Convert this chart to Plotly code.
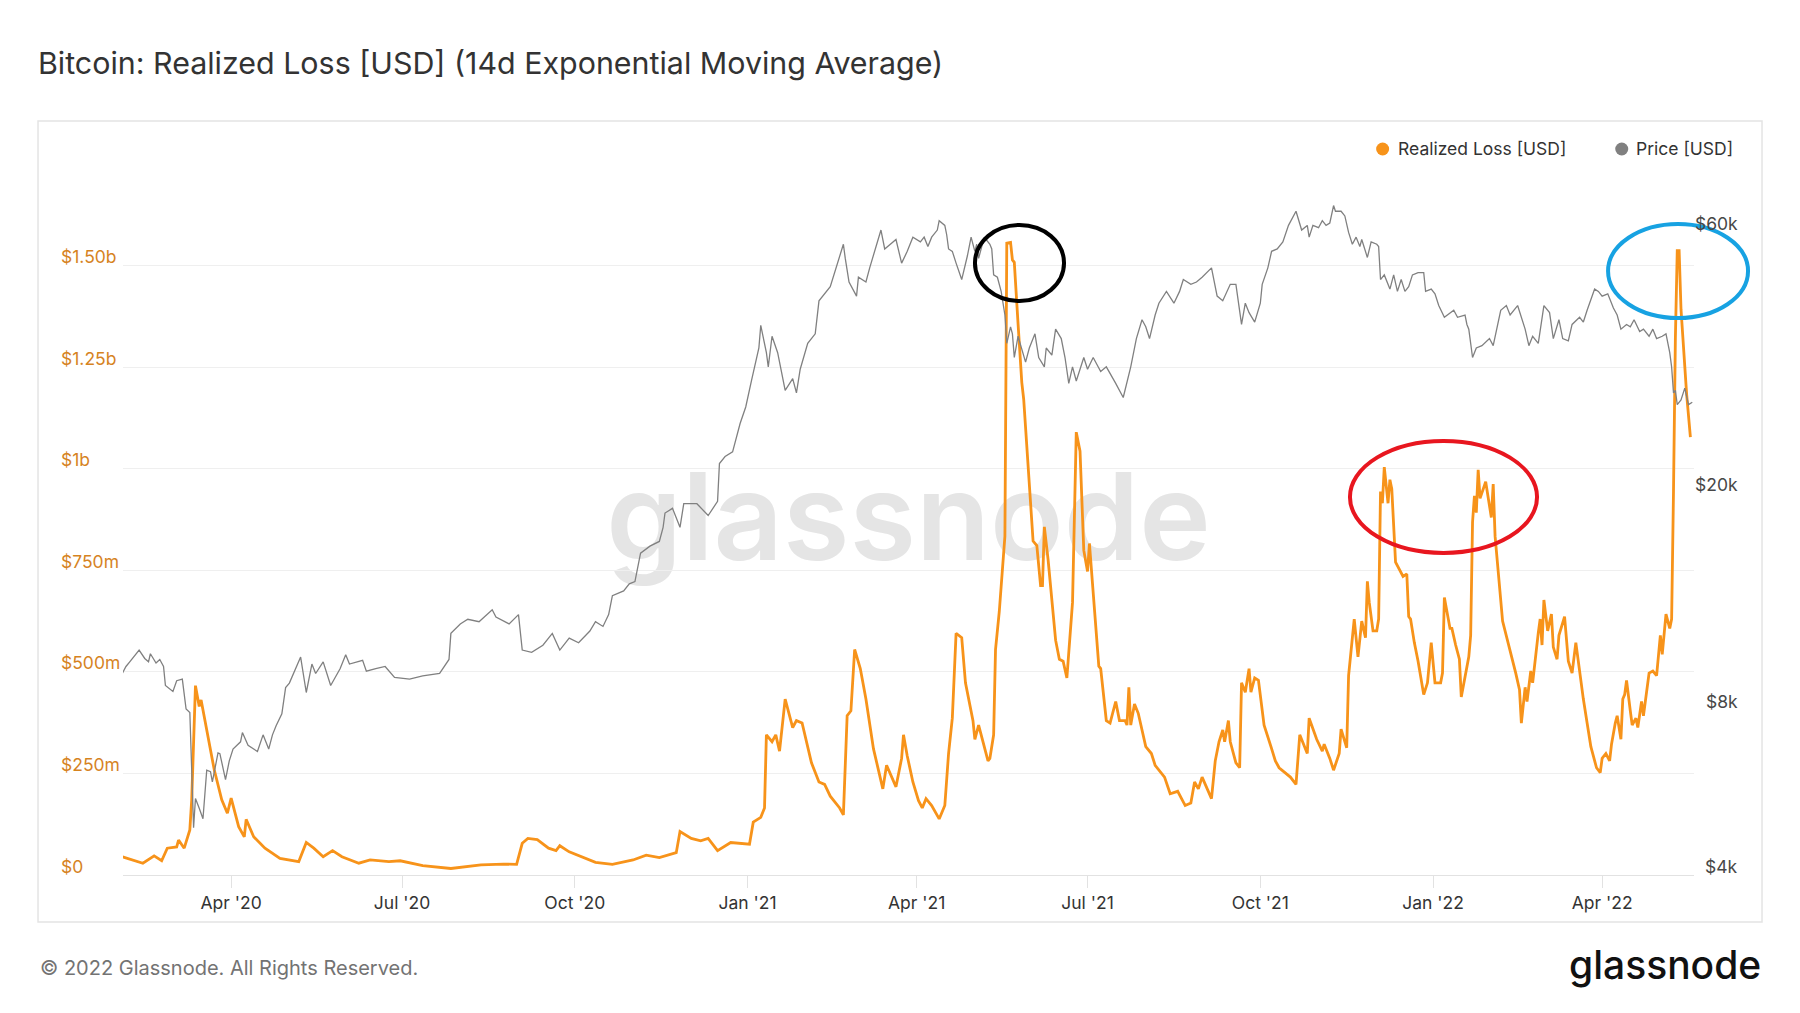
import numpy as np
import plotly.graph_objects as go

# realized loss, 14d EMA, in millions of USD
loss_dates = [
    "2020-02-03", "2020-02-14", "2020-02-20", "2020-02-24", "2020-02-27", "2020-03-03", "2020-03-04", "2020-03-07",
    "2020-03-10", "2020-03-11", "2020-03-13", "2020-03-15", "2020-03-16", "2020-03-19", "2020-03-23", "2020-03-27",
    "2020-03-30", "2020-04-01", "2020-04-05", "2020-04-08", "2020-04-09", "2020-04-13", "2020-04-19", "2020-04-27",
    "2020-05-07", "2020-05-11", "2020-05-15", "2020-05-20", "2020-05-25", "2020-05-30", "2020-06-08", "2020-06-14",
    "2020-06-24", "2020-06-30", "2020-07-12", "2020-07-27", "2020-08-12", "2020-08-24", "2020-08-31", "2020-09-03",
    "2020-09-06", "2020-09-11", "2020-09-17", "2020-09-21", "2020-09-23", "2020-09-28", "2020-10-05", "2020-10-12",
    "2020-10-21", "2020-11-01", "2020-11-08", "2020-11-15", "2020-11-24", "2020-11-26", "2020-12-02", "2020-12-07",
    "2020-12-11", "2020-12-16", "2020-12-23", "2021-01-02", "2021-01-04", "2021-01-08", "2021-01-10", "2021-01-11",
    "2021-01-14", "2021-01-16", "2021-01-18", "2021-01-21", "2021-01-25", "2021-01-27", "2021-01-30", "2021-02-04",
    "2021-02-08", "2021-02-11", "2021-02-14", "2021-02-19", "2021-02-21", "2021-02-23", "2021-02-25", "2021-02-27",
    "2021-03-02", "2021-03-05", "2021-03-09", "2021-03-14", "2021-03-16", "2021-03-21", "2021-03-24", "2021-03-25",
    "2021-03-27", "2021-03-30", "2021-04-02", "2021-04-04", "2021-04-06", "2021-04-09", "2021-04-13", "2021-04-16",
    "2021-04-18", "2021-04-20", "2021-04-22", "2021-04-25", "2021-04-27", "2021-05-01", "2021-05-02", "2021-05-04",
    "2021-05-09", "2021-05-10", "2021-05-12", "2021-05-13", "2021-05-15", "2021-05-18", "2021-05-19", "2021-05-21",
    "2021-05-22", "2021-05-23", "2021-05-25", "2021-05-27", "2021-05-28", "2021-05-31", "2021-06-02", "2021-06-04",
    "2021-06-06", "2021-06-07", "2021-06-08", "2021-06-10", "2021-06-14", "2021-06-16", "2021-06-18", "2021-06-20",
    "2021-06-22", "2021-06-23", "2021-06-25", "2021-06-27", "2021-06-29", "2021-07-01", "2021-07-02", "2021-07-05",
    "2021-07-07", "2021-07-08", "2021-07-11", "2021-07-13", "2021-07-16", "2021-07-18", "2021-07-21", "2021-07-22",
    "2021-07-23", "2021-07-24", "2021-07-26", "2021-07-28", "2021-07-30", "2021-08-01", "2021-08-04", "2021-08-06",
    "2021-08-11", "2021-08-14", "2021-08-18", "2021-08-22", "2021-08-25", "2021-08-27", "2021-08-29", "2021-08-31",
    "2021-09-05", "2021-09-07", "2021-09-09", "2021-09-11", "2021-09-12", "2021-09-14", "2021-09-15", "2021-09-18",
    "2021-09-20", "2021-09-21", "2021-09-23", "2021-09-25", "2021-09-26", "2021-09-28", "2021-09-30", "2021-10-03",
    "2021-10-07", "2021-10-09", "2021-10-11", "2021-10-17", "2021-10-20", "2021-10-22", "2021-10-26", "2021-10-27",
    "2021-10-31", "2021-11-03", "2021-11-04", "2021-11-07", "2021-11-09", "2021-11-12", "2021-11-13", "2021-11-16",
    "2021-11-17", "2021-11-18", "2021-11-20", "2021-11-22", "2021-11-23", "2021-11-24", "2021-11-26", "2021-11-27",
    "2021-11-28", "2021-11-30", "2021-12-02", "2021-12-03", "2021-12-04", "2021-12-05", "2021-12-06", "2021-12-08",
    "2021-12-09", "2021-12-10", "2021-12-12", "2021-12-16", "2021-12-18", "2021-12-19", "2021-12-20", "2021-12-22",
    "2021-12-24", "2021-12-27", "2021-12-29", "2021-12-31", "2022-01-02", "2022-01-05", "2022-01-06", "2022-01-07",
    "2022-01-10", "2022-01-11", "2022-01-13", "2022-01-15", "2022-01-16", "2022-01-18", "2022-01-20", "2022-01-21",
    "2022-01-22", "2022-01-23", "2022-01-24", "2022-01-25", "2022-01-26", "2022-01-29", "2022-02-01", "2022-02-02",
    "2022-02-03", "2022-02-07", "2022-02-09", "2022-02-11", "2022-02-14", "2022-02-16", "2022-02-17", "2022-02-19",
    "2022-02-20", "2022-02-22", "2022-02-23", "2022-02-26", "2022-02-27", "2022-02-28", "2022-03-01", "2022-03-03",
    "2022-03-05", "2022-03-06", "2022-03-08", "2022-03-09", "2022-03-12", "2022-03-14", "2022-03-16", "2022-03-18",
    "2022-03-20", "2022-03-22", "2022-03-24", "2022-03-26", "2022-03-29", "2022-03-31", "2022-04-01", "2022-04-03",
    "2022-04-05", "2022-04-06", "2022-04-08", "2022-04-09", "2022-04-11", "2022-04-12", "2022-04-13", "2022-04-14",
    "2022-04-16", "2022-04-17", "2022-04-19", "2022-04-20", "2022-04-22", "2022-04-23", "2022-04-26", "2022-04-28",
    "2022-04-30", "2022-05-02", "2022-05-03", "2022-05-04", "2022-05-05", "2022-05-07", "2022-05-08", "2022-05-09",
    "2022-05-10", "2022-05-11", "2022-05-12", "2022-05-13", "2022-05-15", "2022-05-16", "2022-05-18",
]
loss_musd = [
    45, 29, 47, 35, 66, 69, 86, 66,
    111, 185, 466, 415, 431, 357, 259, 185,
    152, 189, 119, 94, 137, 94, 66, 41,
    33, 80, 66, 45, 60, 45, 29, 37,
    33, 35, 23, 16, 25, 27, 26, 78,
    90, 87, 66, 60, 72, 57, 43, 31,
    26, 37, 49, 43, 55, 107, 90, 84,
    90, 60, 80, 76, 130, 142, 165, 345,
    328, 345, 305, 433, 363, 380, 374, 276,
    229, 223, 194, 165, 148, 392, 404, 555,
    508, 433, 311, 212, 270, 217, 287, 345,
    293, 229, 183, 165, 188, 171, 138, 171,
    299, 386, 595, 584, 473, 380, 334, 369,
    281, 287, 345, 555, 648, 834, 1555, 1557,
    1514, 1508, 1357, 1212, 1171, 950, 822, 811,
    712, 712, 857, 776, 578, 531, 526, 485,
    625, 671, 1090, 1043, 799, 747, 816, 636,
    514, 508, 380, 374, 427, 380, 380, 369,
    462, 369, 421, 398, 357, 316, 299, 270,
    241, 200, 206, 171, 177, 229, 212, 241,
    188, 281, 328, 357, 328, 380, 328, 276,
    264, 473, 450, 508, 450, 485, 479, 369,
    311, 281, 264, 241, 223, 345, 299, 386,
    334, 305, 322, 287, 258, 299, 359, 313,
    491, 537, 630, 537, 578, 625, 584, 723,
    671, 601, 601, 630, 944, 915, 1004, 915,
    973, 950, 770, 735, 741, 636, 630, 572,
    526, 444, 473, 572, 473, 473, 497, 683,
    607, 607, 566, 531, 438, 485, 537, 590,
    869, 933, 892, 997, 927, 968, 880, 962,
    834, 625, 590, 555, 497, 456, 374, 462,
    427, 502, 473, 596, 630, 566, 677, 601,
    642, 561, 531, 590, 636, 526, 497, 572,
    497, 433, 374, 316, 264, 252, 287, 299,
    281, 322, 374, 392, 334, 433, 444, 479,
    404, 369, 386, 363, 427, 392, 497, 502,
    491, 590, 543, 590, 642, 607, 630, 944,
    1322, 1537, 1537, 1392, 1247, 1183, 1078,
]

# BTC price in USD (right log axis)
price_dates = [
    "2020-02-03", "2020-02-05", "2020-02-07", "2020-02-09", "2020-02-10", "2020-02-12", "2020-02-15", "2020-02-17",
    "2020-02-18", "2020-02-21", "2020-02-23", "2020-02-25", "2020-02-26", "2020-03-01", "2020-03-03", "2020-03-06",
    "2020-03-08", "2020-03-10", "2020-03-12", "2020-03-13", "2020-03-15", "2020-03-17", "2020-03-19", "2020-03-21",
    "2020-03-22", "2020-03-24", "2020-03-25", "2020-03-26", "2020-03-29", "2020-03-31", "2020-04-02", "2020-04-06",
    "2020-04-07", "2020-04-10", "2020-04-15", "2020-04-18", "2020-04-21", "2020-04-23", "2020-04-25", "2020-04-28",
    "2020-04-30", "2020-05-02", "2020-05-08", "2020-05-11", "2020-05-14", "2020-05-16", "2020-05-20", "2020-05-24",
    "2020-05-29", "2020-06-01", "2020-06-03", "2020-06-10", "2020-06-12", "2020-06-17", "2020-06-22", "2020-06-27",
    "2020-07-05", "2020-07-12", "2020-07-21", "2020-07-26", "2020-07-27", "2020-08-01", "2020-08-05", "2020-08-11",
    "2020-08-18", "2020-08-20", "2020-08-27", "2020-09-01", "2020-09-03", "2020-09-08", "2020-09-14", "2020-09-19",
    "2020-09-23", "2020-09-28", "2020-10-03", "2020-10-09", "2020-10-12", "2020-10-16", "2020-10-19", "2020-10-21",
    "2020-10-27", "2020-10-30", "2020-11-02", "2020-11-05", "2020-11-10", "2020-11-15", "2020-11-17", "2020-11-18",
    "2020-11-22", "2020-11-26", "2020-11-28", "2020-12-05", "2020-12-11", "2020-12-16", "2020-12-17", "2020-12-20",
    "2020-12-24", "2020-12-28", "2020-12-31", "2021-01-03", "2021-01-07", "2021-01-08", "2021-01-11", "2021-01-12",
    "2021-01-14", "2021-01-17", "2021-01-21", "2021-01-25", "2021-01-27", "2021-01-29", "2021-02-02", "2021-02-06",
    "2021-02-08", "2021-02-14", "2021-02-18", "2021-02-21", "2021-02-22", "2021-02-24", "2021-02-28", "2021-03-01",
    "2021-03-05", "2021-03-07", "2021-03-13", "2021-03-15", "2021-03-21", "2021-03-24", "2021-03-27", "2021-03-30",
    "2021-04-03", "2021-04-05", "2021-04-07", "2021-04-09", "2021-04-12", "2021-04-13", "2021-04-16", "2021-04-17",
    "2021-04-18", "2021-04-20", "2021-04-22", "2021-04-25", "2021-04-28", "2021-04-30", "2021-05-02", "2021-05-03",
    "2021-05-04", "2021-05-07", "2021-05-10", "2021-05-11", "2021-05-12", "2021-05-14", "2021-05-16", "2021-05-18",
    "2021-05-19", "2021-05-21", "2021-05-22", "2021-05-23", "2021-05-25", "2021-05-26", "2021-05-29", "2021-05-31",
    "2021-06-03", "2021-06-05", "2021-06-08", "2021-06-09", "2021-06-12", "2021-06-14", "2021-06-17", "2021-06-19",
    "2021-06-21", "2021-06-23", "2021-06-25", "2021-06-29", "2021-07-01", "2021-07-04", "2021-07-08", "2021-07-11",
    "2021-07-14", "2021-07-16", "2021-07-20", "2021-07-22", "2021-07-24", "2021-07-27", "2021-07-30", "2021-08-01",
    "2021-08-03", "2021-08-06", "2021-08-08", "2021-08-12", "2021-08-16", "2021-08-19", "2021-08-21", "2021-08-25",
    "2021-08-28", "2021-08-31", "2021-09-05", "2021-09-08", "2021-09-11", "2021-09-15", "2021-09-18", "2021-09-21",
    "2021-09-23", "2021-09-25", "2021-09-28", "2021-10-01", "2021-10-02", "2021-10-05", "2021-10-07", "2021-10-10",
    "2021-10-13", "2021-10-16", "2021-10-20", "2021-10-23", "2021-10-26", "2021-10-27", "2021-10-29", "2021-11-01",
    "2021-11-03", "2021-11-05", "2021-11-07", "2021-11-09", "2021-11-10", "2021-11-13", "2021-11-15", "2021-11-17",
    "2021-11-19", "2021-11-21", "2021-11-23", "2021-11-24", "2021-11-27", "2021-11-29", "2021-12-02", "2021-12-03",
    "2021-12-04", "2021-12-06", "2021-12-09", "2021-12-11", "2021-12-13", "2021-12-15", "2021-12-17", "2021-12-19",
    "2021-12-21", "2021-12-24", "2021-12-27", "2021-12-28", "2021-12-31", "2022-01-02", "2022-01-04", "2022-01-07",
    "2022-01-10", "2022-01-12", "2022-01-14", "2022-01-18", "2022-01-19", "2022-01-20", "2022-01-22", "2022-01-24",
    "2022-01-27", "2022-01-31", "2022-02-02", "2022-02-04", "2022-02-06", "2022-02-09", "2022-02-11", "2022-02-15",
    "2022-02-17", "2022-02-19", "2022-02-21", "2022-02-23", "2022-02-26", "2022-03-01", "2022-03-04", "2022-03-06",
    "2022-03-09", "2022-03-11", "2022-03-14", "2022-03-16", "2022-03-20", "2022-03-22", "2022-03-24", "2022-03-26",
    "2022-03-28", "2022-03-30", "2022-04-01", "2022-04-04", "2022-04-07", "2022-04-09", "2022-04-11", "2022-04-14",
    "2022-04-16", "2022-04-18", "2022-04-21", "2022-04-23", "2022-04-26", "2022-04-28", "2022-04-30", "2022-05-03",
    "2022-05-05", "2022-05-07", "2022-05-08", "2022-05-09", "2022-05-10", "2022-05-11", "2022-05-13", "2022-05-15",
    "2022-05-17", "2022-05-19",
]
price_usd = [
    9350, 9630, 9820, 10020, 10160, 10320, 9960, 9820,
    10160, 9770, 9920, 9630, 8890, 8670, 9070, 9130,
    8050, 7930, 4880, 5520, 5300, 5070, 6220, 6180,
    5920, 6410, 6690, 6670, 5980, 6470, 6800, 7010,
    7290, 6910, 6730, 7220, 6800, 7220, 7510, 7890,
    8810, 8980, 10020, 8630, 9730, 9350, 9820, 8890,
    9540, 10120, 9730, 9880, 9440, 9540, 9630, 9200,
    9130, 9260, 9350, 9920, 11070, 11520, 11750, 11630,
    12230, 11860, 11520, 11980, 10320, 10220, 10530, 11070,
    10320, 10850, 10640, 11180, 11630, 11400, 11980, 12980,
    13240, 13640, 13770, 15520, 15990, 16310, 17310, 18380,
    18750, 17310, 19120, 19120, 18190, 19310, 22640, 23320,
    23790, 26810, 28740, 32060, 36850, 40530, 36120, 34030,
    38720, 36120, 30810, 32380, 30500, 33690, 37580, 39110,
    44950, 47710, 52690, 57050, 53750, 48660, 45850, 49650,
    48660, 51650, 60570, 55930, 58200, 52690, 55370, 58780,
    57630, 58780, 56490, 58780, 60570, 63010, 61770, 59380,
    55930, 55370, 52690, 49160, 54290, 58780, 55370, 57050,
    53750, 58780, 57050, 55930, 50140, 49650, 46770, 42340,
    37580, 40290, 39110, 35400, 38720, 37580, 34710, 36850,
    39110, 35400, 34030, 36850, 35770, 39890, 38340, 35400,
    31740, 34030, 32060, 35400, 33690, 35400, 33360, 34030,
    32700, 31740, 29910, 32060, 34030, 38340, 41510, 40290,
    38340, 42340, 44500, 46770, 44500, 46770, 49160, 48180,
    48660, 49650, 51650, 45850, 44950, 48180, 48180, 40690,
    44500, 42770, 41100, 44500, 48180, 51650, 55370, 55930,
    57630, 61770, 65560, 60570, 61770, 58780, 61770, 61170,
    63010, 61770, 62390, 67150, 65560, 65560, 64280, 59960,
    57050, 58780, 56490, 58200, 53960, 57630, 57050, 56490,
    49160, 50140, 47230, 50140, 46770, 49160, 46770, 47710,
    50140, 50640, 50640, 46770, 47230, 46300, 44060, 41930,
    42770, 43190, 41930, 42340, 40690, 39890, 35400, 36850,
    37210, 38340, 37210, 39890, 43190, 44060, 42340, 44060,
    41930, 39890, 37210, 38720, 37580, 44060, 42770, 38340,
    41510, 38340, 37960, 40690, 41930, 41100, 43190, 45390,
    47230, 46770, 45850, 46300, 43620, 42340, 39890, 40690,
    40290, 41510, 39500, 39890, 38720, 39890, 38340, 38720,
    39110, 36120, 34030, 30500, 30810, 29030, 29610, 31110,
    29030, 29320,
]

loss_ticks = [0, 250e6, 500e6, 750e6, 1e9, 1.25e9, 1.5e9, 1.75e9]
loss_tick_text = ["$0", "$250m", "$500m", "$750m", "$1b", "$1.25b", "$1.50b", ""]
price_ticks = [4000, 8000, 20000, 60000]
price_tick_text = ["$4k", "$8k", "$20k", "$60k"]

loss_name = "Realized Loss [USD]"
price_name = "Price [USD]"
orange = "#f7931a"
grey = "#808080"

fig = go.Figure()
fig.add_trace(go.Scatter(x=loss_dates, y=np.array(loss_musd) * 1e6, name=loss_name,
                         mode="lines", line=dict(color=orange, width=2.8), yaxis="y"))
fig.add_trace(go.Scatter(x=price_dates, y=price_usd, name=price_name,
                         mode="lines", line=dict(color=grey, width=1.3), yaxis="y2"))

annotations = []
for v, t in zip(loss_ticks, loss_tick_text):
    if t:
        annotations.append(dict(text=t, xref="paper", x=-0.0407, xanchor="left", yref="y", y=v, yanchor="middle",
                                yshift=9, showarrow=False, font=dict(size=17.5, color="#d6831f")))
for v, t in zip(price_ticks, price_tick_text):
    annotations.append(dict(text=t, xref="paper", x=1.029, xanchor="right", yref="y2", y=np.log10(v), yanchor="middle",
                            yshift=9, showarrow=False, font=dict(size=17.5, color="#474747")))

# legend (dots are shapes below)
annotations.append(dict(text=loss_name, xref="paper", x=0.8100, xanchor="left", yref="paper", y=1.0211,
                        yanchor="middle", showarrow=False, font=dict(size=17.5, color="#333333")))
annotations.append(dict(text=price_name, xref="paper", x=0.9621, xanchor="left", yref="paper", y=1.0211,
                        yanchor="middle", showarrow=False, font=dict(size=17.5, color="#333333")))

annotations.append(dict(text="© 2022 Glassnode. All Rights Reserved.", xref="paper", x=-0.0541, xanchor="left",
                        yref="paper", y=-0.1308, yanchor="middle", showarrow=False,
                        font=dict(size=20, color="#737373")))
annotations.append(dict(text="glassnode", xref="paper", x=1.0440, xanchor="right", yref="paper", y=-0.1265,
                        yanchor="middle", showarrow=False, font=dict(size=39, color="#111111", weight=500)))

shapes = [
    # outer chart frame
    dict(type="rect", xref="paper", yref="paper", x0=-0.0541, x1=1.0433, y0=-0.0661, y1=1.0605,
         line=dict(color="#e4e4e4", width=1.5), layer="below"),
    # watermark
    dict(type="rect", xref="paper", yref="paper", x0=0, x1=1, y0=0.01, y1=1.01, line=dict(width=0),
         fillcolor="rgba(0,0,0,0)", layer="below",
         label=dict(text="glassnode", textposition="middle center",
                    font=dict(size=121, color="#e5e5e5", weight=600))),
    # legend dots
    dict(type="circle", xref="paper", yref="paper", xsizemode="pixel", ysizemode="pixel",
         xanchor=0.8018, yanchor=1.0211, x0=-6.5, x1=6.5, y0=-6.5, y1=6.5, fillcolor=orange, line=dict(width=0)),
    dict(type="circle", xref="paper", yref="paper", xsizemode="pixel", ysizemode="pixel",
         xanchor=0.9540, yanchor=1.0211, x0=-6.5, x1=6.5, y0=-6.5, y1=6.5, fillcolor=grey, line=dict(width=0)),
    # hand drawn marks
    dict(type="circle", xref="paper", yref="paper", x0=0.5423, x1=0.5990, y0=0.8073, y1=0.9142,
         line=dict(color="#000000", width=4)),
    dict(type="circle", xref="paper", yref="paper", x0=0.7810, x1=0.9001, y0=0.4529, y1=0.6104,
         line=dict(color="#e8161f", width=4)),
    dict(type="circle", xref="paper", yref="paper", x0=0.9453, x1=1.0344, y0=0.7834, y1=0.9156,
         line=dict(color="#17a2e2", width=4)),
]

fig.update_layout(
    width=1800, height=1013,
    margin=dict(l=123, r=106, t=164, b=138),
    paper_bgcolor="white", plot_bgcolor="white",
    font=dict(family="Inter, Roboto, sans-serif", color="#333333"),
    title=dict(text="Bitcoin: Realized Loss [USD] (14d Exponential Moving Average)", xref="container", x=0.0211,
               xanchor="left", yref="container", y=0.9378, yanchor="middle", font=dict(size=30.4, color="#333333")),
    showlegend=False,
    xaxis=dict(type="date", range=["2020-02-03 10:00", "2022-05-19 22:00"], showgrid=False, zeroline=False,
               showline=True, linecolor="#e2e2e2", linewidth=1, ticks="outside", ticklen=12, tickcolor="#e2e2e2",
               tick0="2020-01-01", dtick="M3", tickformat="%b '%y", tickfont=dict(size=17.5, color="#333333")),
    yaxis=dict(range=[0, 1.75e9], tickvals=loss_ticks, showticklabels=False, showgrid=True, gridcolor="#efefef",
               gridwidth=1, zeroline=False, ticks=""),
    yaxis2=dict(type="log", range=[np.log10(4000), np.log10(80000)], overlaying="y", side="right", showgrid=False,
                showticklabels=False, zeroline=False, ticks=""),
    annotations=annotations,
    shapes=shapes,
)

# page body has an 8px default margin, drop it so the figure sits at the window corner
fig.write_html("out.html", config={"displayModeBar": False},
               post_script="document.body.style.margin='0';")
